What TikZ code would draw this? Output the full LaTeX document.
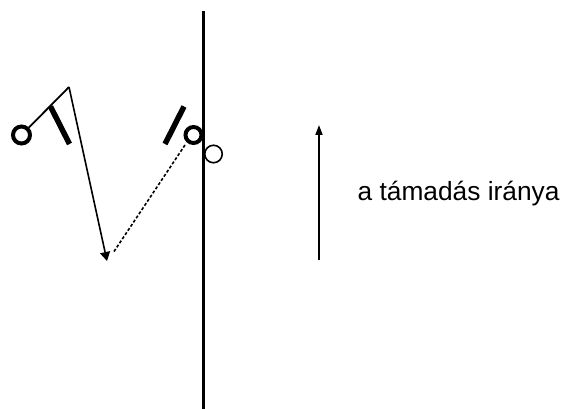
\documentclass[tikz,border=0pt]{standalone}
\usepackage{fontspec}
\setmainfont{Liberation Sans}
\usepackage{tikz}
\usepackage{xcolor}
\usetikzlibrary{arrows.meta, positioning, calc}
\tikzset{
    playerNode/.style={circle, draw=black, fill=white, line width=4pt, inner sep=0pt, minimum size=17pt},
    stickLine/.style={line width=5.5pt},
    passLine/.style={-{Triangle[length=9pt, width=10pt]}, line width=1.6pt},
    runLine/.style={line width=1.6pt, dash pattern=on 3pt off 2pt}
}

\begin{document}
\begin{tikzpicture}[x=1pt, y=-1pt, >={Triangle[length=10pt, width=7pt]}]
    \useasboundingbox (0,0) rectangle (562,409);
    % --- Center line ---
    \coordinate (lineTop) at (203.5,11); \coordinate (lineBot) at (203.5,409);
    \draw[line width=2.3pt] (lineTop)--(lineBot);
    % --- Left player ---
    \node[playerNode] (p1) at (21.5,135){};
    \coordinate (apex) at (69,87);
    \coordinate (s1a) at (50.5,106.5); \coordinate (s1b) at (69.5,144);
    \draw[line width=1.8pt] (p1)--(apex);
    \draw[stickLine] (s1a)--(s1b);
    % --- Right player ---
    \node[playerNode, minimum size=16pt] (p2) at (193.5,135){};
    \coordinate (s2a) at (184,106.5); \coordinate (s2b) at (165,144);
    \draw[stickLine] (s2a)--(s2b);
    \node[circle, draw=black, fill=white, line width=1.6pt, inner sep=0pt, minimum size=17.5pt] (opp) at (213.5,154){};
    % --- Pass and run ---
    \coordinate (target) at (107,261);
    \draw[passLine] (apex)--(target);
    \coordinate (runStart) at (185,145); \coordinate (runEnd) at (113,253);
    \draw[runLine] (runStart)--(runEnd);
    % --- Direction ---
    \coordinate (dirBot) at (319,260); \coordinate (dirTop) at (319,125);
    \draw[->, line width=1.8pt] (dirBot)--(dirTop);
    \node[anchor=west, inner sep=0pt, font=\fontsize{26.3}{30}\selectfont] (dirText) at (357.5,194) {a támadás iránya};
\end{tikzpicture}
\end{document}
